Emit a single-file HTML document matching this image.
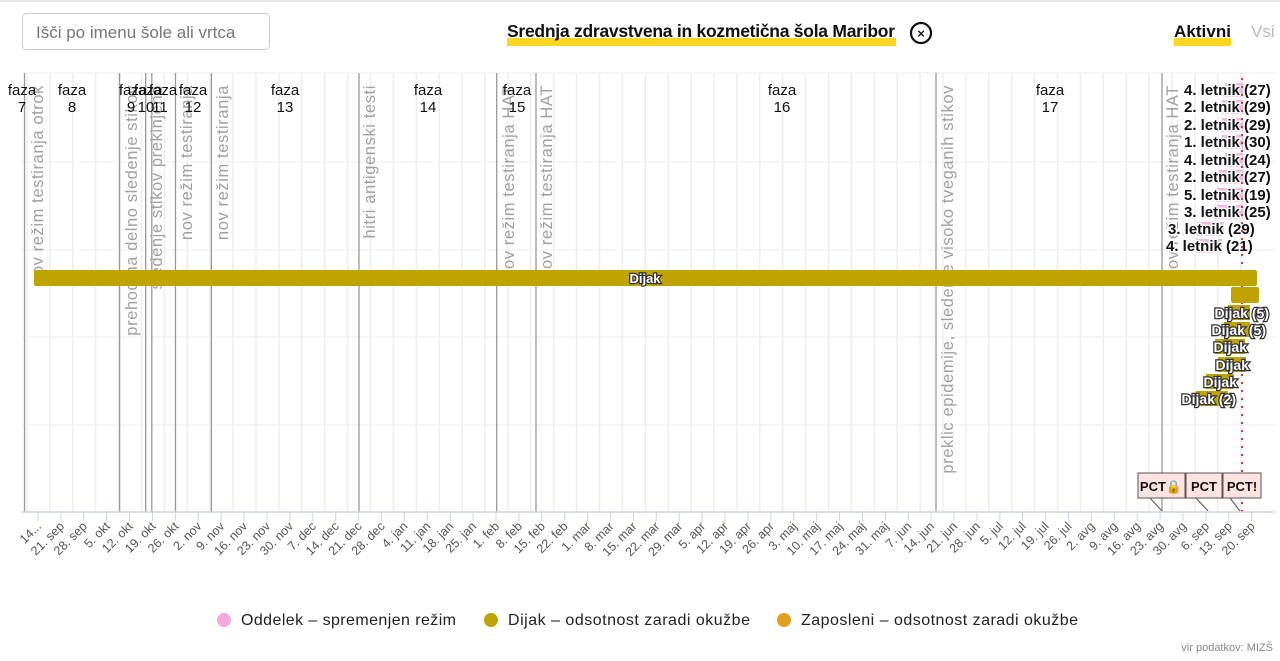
<!DOCTYPE html>
<html><head><meta charset="utf-8"><style>
html,body{margin:0;padding:0;background:#fff;width:1280px;height:661px;overflow:hidden;font-family:"Liberation Sans",sans-serif}
</style></head><body>
<svg width="1280" height="661" xmlns="http://www.w3.org/2000/svg" font-family="Liberation Sans, sans-serif">
<line x1="0" y1="1" x2="1280" y2="1" stroke="#e6e6ea" stroke-width="2"/>
<rect x="22.5" y="13.5" width="247" height="36" rx="4" fill="#fff" stroke="#ccc"/>
<text x="36" y="38" font-size="17" fill="#777">Išči po imenu šole ali vrtca</text>
<rect x="507" y="38" width="389" height="8" fill="#ffd520"/>
<text x="701" y="37" font-size="17.5" font-weight="bold" text-anchor="middle" fill="#111" textLength="388">Srednja zdravstvena in kozmetična šola Maribor</text>
<circle cx="921" cy="33" r="10" fill="none" stroke="#111" stroke-width="2.2"/>
<text x="921" y="38" font-size="13" font-weight="bold" text-anchor="middle" fill="#111">×</text>
<rect x="1174" y="38" width="57" height="8" fill="#ffd520"/>
<text x="1174" y="37" font-size="17" font-weight="bold" fill="#111" textLength="57">Aktivni</text>
<text x="1251" y="37" font-size="17" fill="#bbb">Vsi</text>
<g stroke="#ececf0" stroke-width="1">
<line x1="22" y1="73" x2="1275" y2="73"/><line x1="22" y1="162" x2="1275" y2="162"/><line x1="22" y1="250" x2="1275" y2="250"/><line x1="22" y1="337" x2="1275" y2="337"/><line x1="22" y1="425" x2="1275" y2="425"/>
</g>
<g id="vg" stroke="#eeeeee" stroke-width="1.5"></g>
<g stroke="#999" stroke-width="1.3">
<line x1="24.5" y1="73" x2="24.5" y2="512"/><line x1="119.6" y1="73" x2="119.6" y2="512"/><line x1="145.7" y1="73" x2="145.7" y2="512"/><line x1="151.8" y1="73" x2="151.8" y2="512"/><line x1="175.5" y1="73" x2="175.5" y2="512"/><line x1="211.4" y1="73" x2="211.4" y2="512"/><line x1="359" y1="73" x2="359" y2="512"/><line x1="496.7" y1="73" x2="496.7" y2="512"/><line x1="536" y1="73" x2="536" y2="512"/><line x1="936" y1="73" x2="936" y2="512"/><line x1="1162" y1="73" x2="1162" y2="512"/>
</g>
<g font-size="16.5" fill="#a0a0a0" letter-spacing="0.6">
<text transform="translate(43,85) rotate(-90)" text-anchor="end">nov režim testiranja otrok</text>
<text transform="translate(137,85) rotate(-90)" text-anchor="end">prehod na delno sledenje stikov</text>
<text transform="translate(162,85) rotate(-90)" text-anchor="end">sledenje stikov prekinjeno</text>
<text transform="translate(192,85) rotate(-90)" text-anchor="end">nov režim testiranja</text>
<text transform="translate(228,85) rotate(-90)" text-anchor="end">nov režim testiranja</text>
<text transform="translate(375,85) rotate(-90)" text-anchor="end">hitri antigenski testi</text>
<text transform="translate(514,85) rotate(-90)" text-anchor="end">nov režim testiranja HAT</text>
<text transform="translate(552,85) rotate(-90)" text-anchor="end">nov režim testiranja HAT</text>
<text transform="translate(953,85) rotate(-90)" text-anchor="end">preklic epidemije, sledenje visoko tveganih stikov</text>
<text transform="translate(1178,85) rotate(-90)" text-anchor="end">nov režim testiranja HAT</text>
</g>
<g font-size="15" fill="#111" text-anchor="middle">
<text x="22" y="95">faza</text><text x="22" y="112">7</text>
<text x="72" y="95">faza</text><text x="72" y="112">8</text>
<text x="133" y="95">faza</text><text x="131" y="112">9</text>
<text x="148" y="95">faza</text><text x="146" y="112">10</text>
<text x="163" y="95">faza</text><text x="160" y="112">11</text>
<text x="193" y="95">faza</text><text x="193" y="112">12</text>
<text x="285" y="95">faza</text><text x="285" y="112">13</text>
<text x="428" y="95">faza</text><text x="428" y="112">14</text>
<text x="517" y="95">faza</text><text x="517" y="112">15</text>
<text x="782" y="95">faza</text><text x="782" y="112">16</text>
<text x="1050" y="95">faza</text><text x="1050" y="112">17</text>
</g>
<g fill="#f0b8e0">
<rect x="1225" y="83" width="18" height="14"/><rect x="1222" y="100" width="21" height="14"/><rect x="1222" y="118" width="21" height="14"/><rect x="1222" y="135" width="21" height="14"/><rect x="1225" y="153" width="18" height="14"/><rect x="1219" y="170" width="24" height="14"/><rect x="1216" y="188" width="27" height="14"/><rect x="1214" y="205" width="29" height="14"/><rect x="1197" y="222" width="27" height="14"/><rect x="1196" y="239" width="26" height="14"/>
</g>
<g font-size="15" font-weight="bold" fill="#111" stroke="#fff" stroke-width="3" paint-order="stroke">
<text x="1184" y="95">4. letnik (27)</text><text x="1184" y="112">2. letnik (29)</text><text x="1184" y="130">2. letnik (29)</text><text x="1184" y="147">1. letnik (30)</text><text x="1184" y="165">4. letnik (24)</text><text x="1184" y="182">2. letnik (27)</text><text x="1184" y="200">5. letnik (19)</text><text x="1184" y="217">3. letnik (25)</text><text x="1168" y="234">3. letnik (29)</text><text x="1166" y="251">4. letnik (21)</text>
</g>
<line x1="1242" y1="78" x2="1242" y2="512" stroke="#e53030" stroke-width="2" stroke-dasharray="2,6"/>
<rect x="34" y="270" width="1223" height="16" rx="2" fill="#bfa400"/>
<text x="645" y="283" font-size="13" font-weight="bold" text-anchor="middle" fill="#fff" stroke="#333" stroke-width="2.5" paint-order="stroke">Dijak</text>
<g fill="#bfa400">
<rect x="1231" y="287" width="28" height="16" rx="2"/><rect x="1228" y="305" width="22" height="15"/><rect x="1224" y="322" width="26" height="15"/><rect x="1215" y="339" width="30" height="15"/><rect x="1218" y="357" width="28" height="15"/><rect x="1206" y="374" width="28" height="15"/><rect x="1196" y="391" width="32" height="15"/>
</g>
<g font-size="14" font-weight="bold" fill="#fff" stroke="#333" stroke-width="2.5" paint-order="stroke" text-anchor="end">
<text x="1269" y="318">Dijak (5)</text><text x="1266" y="335">Dijak (5)</text><text x="1247" y="352">Dijak</text><text x="1249" y="370">Dijak</text><text x="1237" y="387">Dijak</text><text x="1236" y="404">Dijak (2)</text>
</g>
<g stroke="#666" stroke-width="1.2">
<line x1="1150" y1="498" x2="1162" y2="511"/><line x1="1196" y1="498" x2="1208" y2="511"/><line x1="1230" y1="498" x2="1240" y2="511"/>
</g>
<g fill="#fde2e2" stroke="#555" stroke-width="1">
<rect x="1138" y="473" width="47" height="25"/><rect x="1186" y="473" width="36" height="25"/><rect x="1223" y="473" width="38" height="25"/>
</g>
<g font-size="13" font-weight="bold" fill="#111" text-anchor="middle">
<text x="1161" y="491">PCT🔒</text><text x="1204" y="491">PCT</text><text x="1242" y="491">PCT!</text>
</g>
<line x1="22" y1="512" x2="1275" y2="512" stroke="#ccd4ec" stroke-width="1.5"/>
<g id="ticks"></g>
<g font-size="16" fill="#222">
<circle cx="224" cy="620" r="7" fill="#f3a8dc"/><text x="241" y="625" textLength="215">Oddelek – spremenjen režim</text>
<circle cx="491" cy="620" r="7" fill="#bfa400"/><text x="508" y="625" textLength="242">Dijak – odsotnost zaradi okužbe</text>
<circle cx="784" cy="620" r="7" fill="#e0a020"/><text x="801" y="625" textLength="277">Zaposleni – odsotnost zaradi okužbe</text>
</g>
<text x="1273" y="651" font-size="11" fill="#888" text-anchor="end">vir podatkov: MIZŠ</text>
</svg>
<script>
var L=["14...","21. sep","28. sep","5. okt","12. okt","19. okt","26. okt","2. nov","9. nov","16. nov","23. nov","30. nov","7. dec","14. dec","21. dec","28. dec","4. jan","11. jan","18. jan","25. jan","1. feb","8. feb","15. feb","22. feb","1. mar","8. mar","15. mar","22. mar","29. mar","5. apr","12. apr","19. apr","26. apr","3. maj","10. maj","17. maj","24. maj","31. maj","7. jun","14. jun","21. jun","28. jun","5. jul","12. jul","19. jul","26. jul","2. avg","9. avg","16. avg","23. avg","30. avg","6. sep","13. sep","20. sep"];
var ns="http://www.w3.org/2000/svg",t=document.getElementById("ticks"),vg=document.getElementById("vg");
L.forEach(function(s,i){var x=38+i*22.9;
var ln=document.createElementNS(ns,"line");ln.setAttribute("x1",x);ln.setAttribute("x2",x);ln.setAttribute("y1",512);ln.setAttribute("y2",521);ln.setAttribute("stroke","#ccd4ec");t.appendChild(ln);
var g=document.createElementNS(ns,"line");g.setAttribute("x1",x-11);g.setAttribute("x2",x-11);g.setAttribute("y1",73);g.setAttribute("y2",512);vg.appendChild(g);
var tx=document.createElementNS(ns,"text");tx.setAttribute("transform","translate("+(x+4)+",527) rotate(-45)");tx.setAttribute("text-anchor","end");tx.setAttribute("font-size","12.5");tx.setAttribute("fill","#555");tx.textContent=s;t.appendChild(tx);});
</script>
</body></html>
